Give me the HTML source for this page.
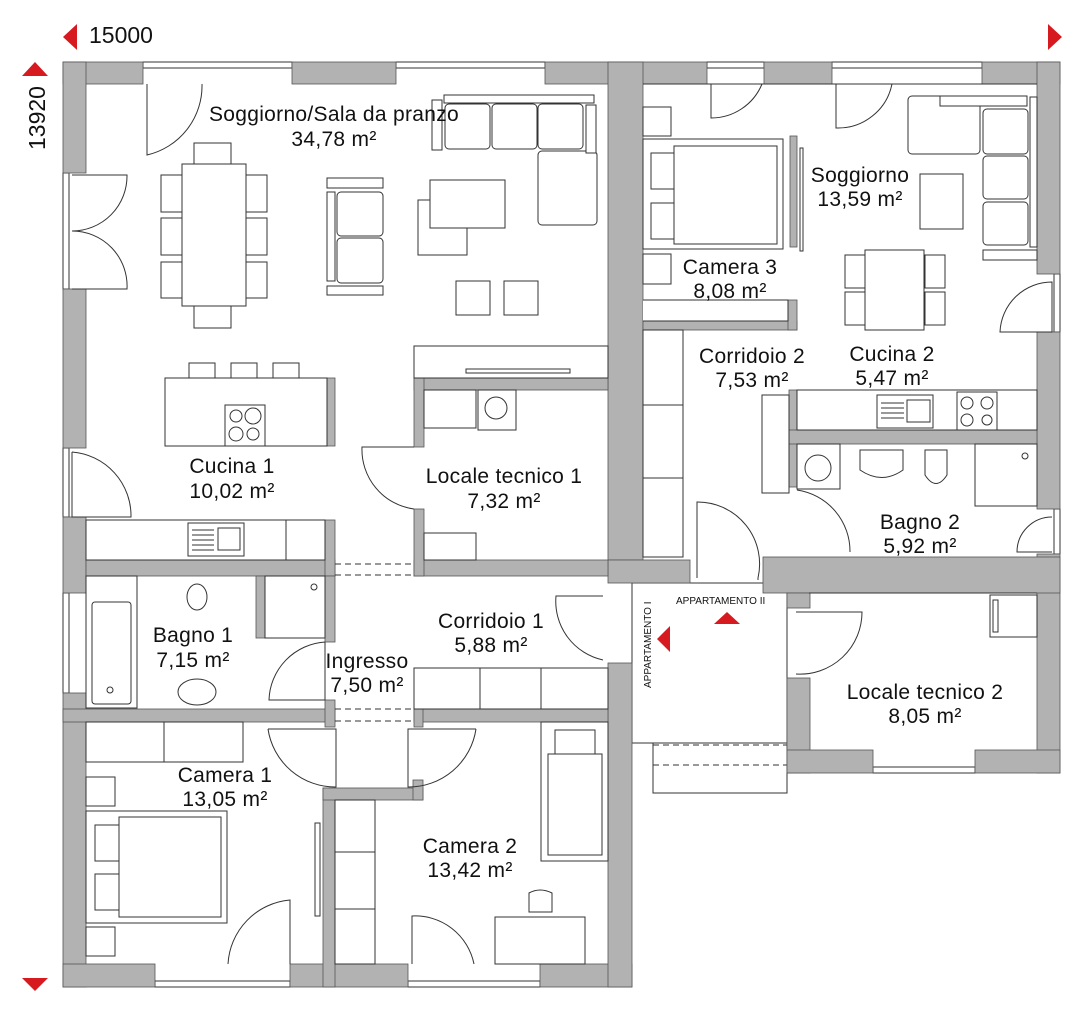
<!DOCTYPE html>
<html><head><meta charset="utf-8"><style>
html,body{margin:0;padding:0;background:#fff;}
svg{display:block;}
text{font-family:"Liberation Sans",sans-serif;fill:#111;}
.w{fill:#b2b2b2;stroke:#555;stroke-width:0.8;}
.f{fill:#fff;stroke:#333;stroke-width:1;}
.l{fill:none;stroke:#333;stroke-width:1;}
.d{fill:none;stroke:#333;stroke-width:1;stroke-dasharray:6 4;}
.lbl{font-size:21px;text-anchor:middle;letter-spacing:0.3px;}
.r{fill:#d71920;}
</style></head><body>
<svg width="1080" height="1015" viewBox="0 0 1080 1015" xmlns="http://www.w3.org/2000/svg">
<polygon class="r" points="77,24 77,50 63,37"/>
<text x="89" y="43" style="font-size:23px">15000</text>
<polygon class="r" points="1048,24 1048,50 1062,37"/>
<polygon class="r" points="22,76 48,76 35,62"/>
<text transform="translate(45,150) rotate(-90)" style="font-size:23px">13920</text>
<polygon class="r" points="22,978 48,978 35,991"/>

<rect class="f" x="632" y="583" width="155" height="160"/>
<rect class="f" x="653" y="743" width="134" height="50"/>
<line class="d" x1="653" y1="745" x2="787" y2="745"/>
<line class="d" x1="653" y1="765" x2="787" y2="765"/>

<g class="l">
<rect x="143" y="62" width="149" height="6"/><rect x="396" y="62" width="149" height="6"/>
<rect x="707" y="62" width="57" height="6"/><rect x="832" y="62" width="150" height="6"/>
<rect x="63" y="173" width="6" height="116"/><rect x="63" y="448" width="6" height="69"/><rect x="63" y="593" width="6" height="100"/>
<rect x="155" y="981" width="135" height="6"/><rect x="408" y="981" width="132" height="6"/>
<rect x="873" y="767" width="102" height="6"/>
<rect x="1054" y="274" width="6" height="58"/><rect x="1054" y="509" width="6" height="45"/>
</g>

<g class="w">
<rect x="63" y="62" width="80" height="22"/>
<rect x="292" y="62" width="104" height="22"/>
<rect x="545" y="62" width="162" height="22"/>
<rect x="63" y="62" width="23" height="111"/>
<rect x="63" y="289" width="23" height="159"/>
<rect x="63" y="517" width="23" height="76"/>
<rect x="63" y="693" width="23" height="294"/>
<rect x="63" y="964" width="92" height="23"/>
<rect x="290" y="964" width="118" height="23"/>
<rect x="540" y="964" width="92" height="23"/>
<rect x="608" y="62" width="35" height="498"/>
<rect x="608" y="663" width="24" height="324"/>
<rect x="608" y="560" width="82" height="23"/>
<rect x="86" y="560" width="249" height="16"/>
<rect x="325" y="520" width="10" height="56"/>
<rect x="414" y="560" width="194" height="16"/>
<rect x="414" y="378" width="194" height="12"/>
<rect x="414" y="378" width="10" height="69"/>
<rect x="414" y="509" width="10" height="67"/>
<rect x="256" y="576" width="9" height="62"/>
<rect x="325" y="576" width="10" height="66"/>
<rect x="63" y="709" width="272" height="13"/>
<rect x="325" y="700" width="10" height="27"/>
<rect x="414" y="709" width="194" height="13"/>
<rect x="414" y="700" width="9" height="27"/>
<rect x="323" y="788" width="12" height="199"/>
<rect x="323" y="788" width="100" height="12"/>
<rect x="413" y="780" width="10" height="20"/>
<rect x="327" y="378" width="8" height="68"/>
</g>
<g class="w">
<rect x="764" y="62" width="68" height="22"/>
<rect x="982" y="62" width="78" height="22"/>
<rect x="1037" y="62" width="23" height="212"/>
<rect x="1037" y="332" width="23" height="177"/>
<rect x="1037" y="554" width="23" height="219"/>
<rect x="643" y="321" width="154" height="9"/>
<rect x="788" y="300" width="9" height="30"/>
<rect x="790" y="136" width="7" height="111"/>
<rect x="789" y="390" width="8" height="97"/>
<rect x="789" y="430" width="248" height="14"/>
<rect x="763" y="557" width="297" height="36"/>
<rect x="787" y="593" width="23" height="15"/>
<rect x="787" y="678" width="23" height="95"/>
<rect x="787" y="750" width="86" height="23"/>
<rect x="975" y="750" width="85" height="23"/>
</g>
<line class="l" x1="809" y1="593" x2="1037" y2="593"/>
<line class="l" x1="643" y1="84" x2="1037" y2="84"/>

<line class="d" x1="335" y1="564" x2="414" y2="564"/><line class="d" x1="335" y1="575" x2="414" y2="575"/>
<line class="d" x1="335" y1="709" x2="414" y2="709"/><line class="d" x1="335" y1="721" x2="414" y2="721"/>

<g class="l">
<path d="M147,84 V155 A71,71 0 0 0 202,84"/>
<path d="M72,175 H127 A55,55 0 0 1 72,231 A55,55 0 0 1 127,289 H72"/>
<path d="M72,452 V517 H131 A64,64 0 0 0 72,452"/>
<path d="M414,447 H362 A60,60 0 0 0 414,509"/>
<path d="M325,642 V700 H269 A60,60 0 0 1 325,642"/>
<path d="M603,596 H556 A60,60 0 0 0 603,660"/>
<path d="M268,729 H336 V787 A68,68 0 0 1 268,729"/>
<path d="M476,729 H408 V787 A68,68 0 0 0 476,729"/>
<path d="M228,964 A68,68 0 0 1 290,900 V964"/>
<path d="M412,964 V916 A60,60 0 0 1 474,964"/>
<path d="M711,84 V118 A55,55 0 0 0 762,84"/>
<path d="M836,84 V128 A55,55 0 0 0 892,84"/>
<path d="M1052,282 A52,52 0 0 0 1000,332 H1052 Z"/>
<path d="M1052,517 A35,35 0 0 0 1017,552 H1052"/>
<path d="M697,578 V502 A62,62 0 0 1 758,578 V580"/>
<path d="M797,490 A62,62 0 0 1 850,552"/>
<path d="M796,612 H862 A62,62 0 0 1 796,674"/>
</g>

<g class="f">
<rect x="194" y="143" width="37" height="22"/>
<rect x="194" y="306" width="37" height="22"/>
<rect x="161" y="175" width="22" height="37"/><rect x="161" y="218" width="22" height="37"/><rect x="161" y="262" width="22" height="36"/>
<rect x="245" y="175" width="22" height="37"/><rect x="245" y="218" width="22" height="37"/><rect x="245" y="262" width="22" height="36"/>
<rect x="182" y="164" width="64" height="142"/>
<rect x="327" y="178" width="56" height="10"/><rect x="327" y="286" width="56" height="9"/>
<rect x="327" y="192" width="8" height="89"/>
<rect x="337" y="192" width="46" height="44" rx="4"/><rect x="337" y="238" width="46" height="45" rx="4"/>
<rect x="418" y="200" width="49" height="55"/>
<rect x="430" y="180" width="75" height="48"/>
<rect x="456" y="281" width="34" height="34"/><rect x="504" y="281" width="34" height="34"/>
<rect x="444" y="95" width="150" height="8"/>
<rect x="432" y="100" width="10" height="50"/>
<rect x="445" y="104" width="45" height="45" rx="4"/><rect x="492" y="104" width="45" height="45" rx="4"/><rect x="538" y="104" width="45" height="45" rx="4"/>
<rect x="538" y="151" width="59" height="74" rx="4"/>
<rect x="586" y="105" width="10" height="48"/>
<rect x="414" y="346" width="194" height="32"/>
<rect x="466" y="369" width="104" height="4"/>
<rect x="189" y="363" width="26" height="15"/><rect x="231" y="363" width="26" height="15"/><rect x="273" y="363" width="26" height="15"/>
<rect x="165" y="378" width="162" height="68"/>
<rect x="225" y="405" width="40" height="41"/>
<rect x="86" y="520" width="239" height="40"/>
<rect x="188" y="523" width="56" height="33"/><rect x="218" y="528" width="22" height="22"/>
<rect x="286" y="520" width="39" height="40"/>
<rect x="424" y="390" width="52" height="38"/><rect x="478" y="390" width="38" height="40"/>
<rect x="424" y="533" width="52" height="27"/>
<rect x="86" y="576" width="51" height="132"/><rect x="92" y="602" width="39" height="102" rx="3"/>
<rect x="265" y="576" width="60" height="62"/>
<rect x="414" y="668" width="194" height="41"/>
<line x1="480" y1="668" x2="480" y2="709"/><line x1="541" y1="668" x2="541" y2="709"/>
<rect x="86" y="722" width="157" height="40"/><line x1="164" y1="722" x2="164" y2="762"/>
<rect x="86" y="777" width="29" height="29"/>
<rect x="86" y="811" width="141" height="112"/>
<rect x="95" y="825" width="24" height="36"/><rect x="95" y="874" width="24" height="36"/>
<rect x="119" y="817" width="102" height="100"/>
<rect x="315" y="823" width="5" height="93"/>
<rect x="86" y="927" width="29" height="29"/>
<rect x="335" y="800" width="40" height="164"/>
<line x1="335" y1="852" x2="375" y2="852"/><line x1="335" y1="909" x2="375" y2="909"/>
<rect x="541" y="722" width="67" height="139"/>
<rect x="555" y="730" width="40" height="24"/><rect x="548" y="754" width="54" height="101"/>
<rect x="495" y="917" width="90" height="47"/>
<path d="M529,912 V893 Q540,887 552,893 V912 Z"/>
</g>
<g class="l">
<line x1="192" y1="530" x2="214" y2="530"/><line x1="192" y1="535" x2="214" y2="535"/><line x1="192" y1="540" x2="214" y2="540"/><line x1="192" y1="545" x2="214" y2="545"/><line x1="192" y1="550" x2="214" y2="550"/>
<circle cx="236" cy="416" r="6"/><circle cx="253" cy="416" r="8"/><circle cx="236" cy="434" r="7"/><circle cx="253" cy="434" r="6"/>
<circle cx="496" cy="408" r="11"/>
<ellipse cx="197" cy="597" rx="10" ry="13"/>
<ellipse cx="197" cy="692" rx="19" ry="13"/>
<circle cx="314" cy="587" r="3"/><circle cx="110" cy="690" r="3"/>
</g>

<g class="f">
<rect x="643" y="107" width="28" height="29"/>
<rect x="643" y="139" width="140" height="110"/>
<rect x="651" y="153" width="23" height="36"/><rect x="651" y="203" width="23" height="36"/>
<rect x="674" y="146" width="103" height="98"/>
<rect x="800" y="148" width="3" height="103"/>
<rect x="643" y="254" width="28" height="30"/>
<path d="M643,300 H788 V321 H643"/>
<rect x="908" y="96" width="72" height="58" rx="4"/>
<rect x="940" y="96" width="87" height="10"/>
<rect x="983" y="109" width="45" height="45" rx="4"/><rect x="983" y="156" width="45" height="43" rx="4"/><rect x="983" y="202" width="45" height="43" rx="4"/>
<rect x="1030" y="97" width="7" height="150"/>
<rect x="983" y="250" width="54" height="10"/>
<rect x="920" y="174" width="43" height="55"/>
<rect x="845" y="255" width="20" height="33"/><rect x="845" y="292" width="20" height="33"/>
<rect x="925" y="255" width="20" height="33"/><rect x="925" y="292" width="20" height="33"/>
<rect x="865" y="250" width="59" height="80"/>
<rect x="643" y="330" width="40" height="227"/>
<line x1="643" y1="405" x2="683" y2="405"/><line x1="643" y1="478" x2="683" y2="478"/>
<rect x="762" y="395" width="27" height="98"/>
<rect x="797" y="390" width="240" height="40"/>
<rect x="877" y="395" width="56" height="33"/><rect x="907" y="400" width="23" height="22"/>
<rect x="957" y="392" width="40" height="38"/>
<rect x="797" y="444" width="43" height="45"/>
<rect x="975" y="444" width="62" height="62"/>
<path d="M860,450 V470 Q882,485 903,470 V450 Z"/>
<path d="M925,450 V475 Q936,492 947,475 V450 Z"/>
<rect x="990" y="595" width="47" height="42"/>
<rect x="993" y="600" width="5" height="32"/>
</g>
<g class="l">
<line x1="881" y1="403" x2="904" y2="403"/><line x1="881" y1="408" x2="904" y2="408"/><line x1="881" y1="413" x2="904" y2="413"/><line x1="881" y1="418" x2="904" y2="418"/>
<circle cx="967" cy="403" r="6"/><circle cx="987" cy="403" r="6"/><circle cx="967" cy="420" r="6"/><circle cx="987" cy="420" r="5"/>
<circle cx="818" cy="468" r="13"/>
<circle cx="1025" cy="456" r="3"/>
</g>

<g class="lbl">
<text x="334" y="121">Soggiorno/Sala da pranzo</text><text x="334" y="146">34,78 m²</text>
<text x="232" y="473">Cucina 1</text><text x="232" y="498">10,02 m²</text>
<text x="504" y="483">Locale tecnico 1</text><text x="504" y="508">7,32 m²</text>
<text x="193" y="642">Bagno 1</text><text x="193" y="667">7,15 m²</text>
<text x="367" y="668">Ingresso</text><text x="367" y="692">7,50 m²</text>
<text x="491" y="628">Corridoio 1</text><text x="491" y="652">5,88 m²</text>
<text x="225" y="782">Camera 1</text><text x="225" y="806">13,05 m²</text>
<text x="470" y="853">Camera 2</text><text x="470" y="877">13,42 m²</text>
<text x="860" y="182">Soggiorno</text><text x="860" y="206">13,59 m²</text>
<text x="730" y="274">Camera 3</text><text x="730" y="298">8,08 m²</text>
<text x="752" y="363">Corridoio 2</text><text x="752" y="387">7,53 m²</text>
<text x="892" y="361">Cucina 2</text><text x="892" y="385">5,47 m²</text>
<text x="920" y="529">Bagno 2</text><text x="920" y="553">5,92 m²</text>
<text x="925" y="699">Locale tecnico 2</text><text x="925" y="723">8,05 m²</text>
</g>
<text x="676" y="604" style="font-size:10px">APPARTAMENTO II</text>
<text transform="translate(651,688) rotate(-90)" style="font-size:10px">APPARTAMENTO I</text>
<polygon class="r" points="714,624 740,624 727,612"/>
<polygon class="r" points="670,626 670,652 657,639"/>
</svg>
</body></html>
